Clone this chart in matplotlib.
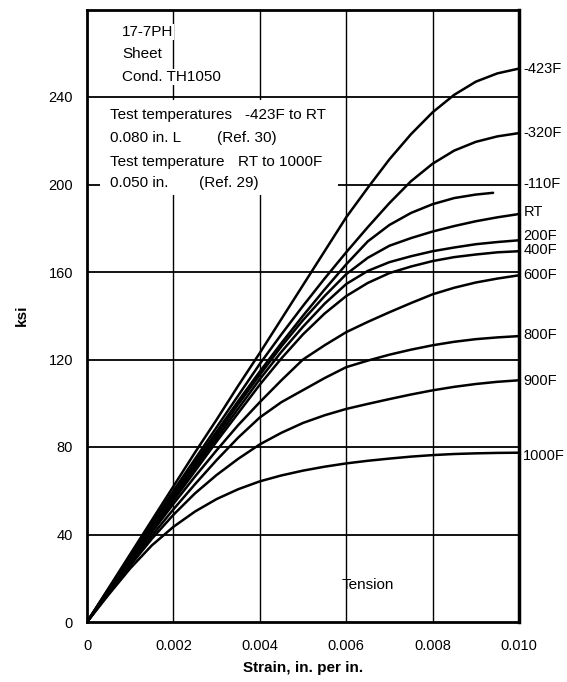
import matplotlib
matplotlib.use("Agg")
import matplotlib.pyplot as plt
from matplotlib.patches import Rectangle
from matplotlib.transforms import blended_transform_factory

plt.rcParams['font.family'] = ['Liberation Sans Narrow', 'Liberation Sans', 'DejaVu Sans']

# Strain grid (in./in.)
strain = [0.0, 0.0005, 0.001, 0.0015, 0.002, 0.0025, 0.003, 0.0035, 0.004, 0.0045,
          0.005, 0.0055, 0.006, 0.0065, 0.007, 0.0075, 0.008, 0.0085, 0.009, 0.0095, 0.010]
strain_m110 = strain[:19] + [0.0094]

# Stress (ksi) for each test temperature
s_m423 = [0, 15.5, 31, 46.5, 62, 77.5, 92.5, 108, 123, 138.5, 154, 169.5, 185, 198.5,
          211.5, 223, 233, 241, 247, 250.8, 253]
s_m320 = [0, 15, 30, 45, 60, 74.5, 89, 103.5, 118, 131.5, 144.5, 157, 169, 180.5,
          191.5, 201.5, 209.5, 215.5, 219.5, 222, 223.5]
s_m110 = [0, 15, 29.5, 44, 58.5, 73, 87, 101, 114.5, 127.5, 140, 152, 163.5, 174,
          181.5, 187, 191, 193.8, 195.4, 196.2]
s_rt = [0, 14.5, 29, 43.5, 57.5, 71.5, 85.5, 99.5, 113, 126, 138, 149, 159, 166.5,
        172, 175.5, 178.5, 181, 183.2, 185, 186.5]
s_200 = [0, 14.2, 28.5, 42.5, 56.5, 70.5, 84, 97.5, 111, 123.5, 135, 145.5, 154.5,
         160.5, 164.5, 167.2, 169.5, 171.2, 172.7, 173.7, 174.5]
s_400 = [0, 14, 28, 42, 55.5, 69, 82.5, 95.5, 108.5, 120.5, 131.5, 141, 149, 155,
         159.5, 162.5, 165, 166.8, 168, 169, 169.5]
s_600 = [0, 13.8, 27.5, 41, 54, 66.5, 78.5, 90, 100.5, 110.5, 120, 126.5, 132.5,
         137.2, 141.6, 145.8, 149.8, 152.8, 155.2, 157, 158.5]
s_800 = [0, 13.4, 26.6, 39.4, 51.5, 63, 74, 84.3, 93.5, 100.5, 106, 111.5, 116.5,
         119.5, 122.2, 124.5, 126.5, 128.1, 129.3, 130.1, 130.7]
s_900 = [0, 13, 25.8, 38, 49, 58.8, 67.2, 74.6, 81.2, 86.5, 91, 94.5, 97.4, 99.7,
         101.9, 104, 105.9, 107.5, 108.8, 109.8, 110.5]
s_1000 = [0, 12.5, 24.5, 35, 43.5, 50.5, 56.2, 60.7, 64.3, 67, 69.2, 71, 72.5, 73.7,
          74.7, 75.6, 76.3, 76.8, 77.1, 77.3, 77.4]

curve_labels = ['-423F', '-320F', '-110F', 'RT', '200F', '400F', '600F', '800F', '900F', '1000F']
label_ksi = [253, 223.5, 200, 187.5, 176.5, 170, 158.6, 131, 110, 76]

x_ticks = [0, 0.002, 0.004, 0.006, 0.008, 0.010]
x_ticklabels = ['0', '0.002', '0.004', '0.006', '0.008', '0.010']
y_ticks = [0, 40, 80, 120, 160, 200, 240]

fig = plt.figure(figsize=(5.67, 6.82), dpi=100)
ax = fig.add_axes([87 / 567, 1 - 622 / 682, 432 / 567, 612.5 / 682])
ax.set_xlim(0, 0.010)
ax.set_ylim(0, 280)

# grid
for gx in x_ticks[1:-1]:
    ax.axvline(gx, color='black', lw=1.0, zorder=1)
for gy in y_ticks[1:]:
    ax.axhline(gy, color='black', lw=1.3, zorder=1)

# blank panel behind the specimen notes
ax.add_patch(Rectangle((0.0003, 195), 0.0055, 43.5, facecolor='white',
                       edgecolor='none', zorder=2))

series = [(strain, s_m423), (strain, s_m320), (strain_m110, s_m110), (strain, s_rt),
          (strain, s_200), (strain, s_400), (strain, s_600), (strain, s_800),
          (strain, s_900), (strain, s_1000)]
for xs, ys in series:
    ax.plot(xs, ys, color='black', lw=1.8, solid_capstyle='round',
            solid_joinstyle='round', zorder=3)

trans = blended_transform_factory(ax.transAxes, ax.transData)
for lab, yv in zip(curve_labels, label_ksi):
    ax.text(1.01, yv, lab, transform=trans, ha='left', va='center', fontsize=10.5,
            clip_on=False)

ax.set_xticks(x_ticks)
ax.set_xticklabels(x_ticklabels)
ax.set_yticks(y_ticks)
ax.tick_params(length=0, labelsize=10.5, pad=10)
ax.tick_params(axis='x', pad=12)
for sp in ax.spines.values():
    sp.set_linewidth(2.0)
    sp.set_zorder(5)
ax.spines['right'].set_linewidth(2.5)

ax.set_xlabel('Strain, in. per in.', fontsize=11, fontweight='bold', labelpad=6)
ax.set_ylabel('ksi', fontsize=11, fontweight='bold', labelpad=14)

wb = dict(facecolor='white', edgecolor='none', pad=0.5)
for txt, yv in [('17-7PH', 269.7), ('Sheet', 259.7), ('Cond. TH1050', 249.1)]:
    ax.text(0.00081, yv, txt, fontsize=11, va='center', ha='left', bbox=wb, zorder=4)

notes = [(0.00053, 231.8, 'Test temperatures'), (0.00366, 231.8, '-423F to RT'),
         (0.00053, 221.3, '0.080 in. L'), (0.00301, 221.3, '(Ref. 30)'),
         (0.00053, 210.3, 'Test temperature'), (0.00350, 210.3, 'RT to 1000F'),
         (0.00053, 200.7, '0.050 in.'), (0.00259, 200.7, '(Ref. 29)')]
for xv, yv, txt in notes:
    ax.text(xv, yv, txt, fontsize=11, va='center', ha='left', zorder=4)

ax.text(0.0065, 17, 'Tension', fontsize=11, ha='center', va='center', zorder=4)

fig.savefig('out.png', dpi=100)
